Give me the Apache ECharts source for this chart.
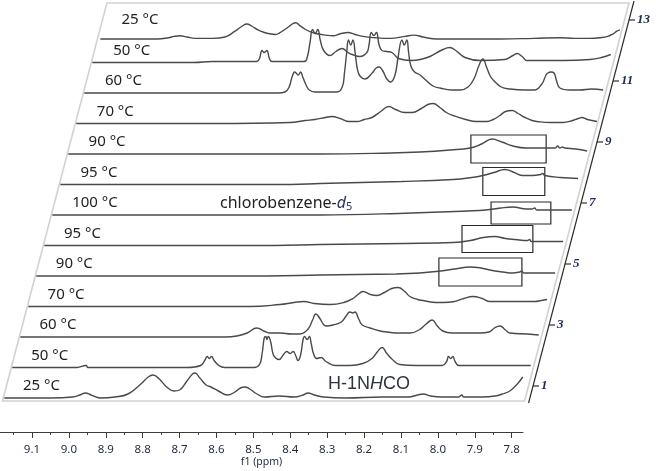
<!DOCTYPE html>
<html>
<head>
<meta charset="utf-8">
<script src="https://cdn.jsdelivr.net/npm/echarts@6/dist/echarts.min.js"></script>
<style>
    html, body { margin: 0; padding: 0; background: #fff; }
    #chart { width: 656px; height: 471px; }
</style>
</head>
<body>
<div id="chart"></div>
<script>
// spectra from front (1) to back (13), points are [ppm, intensity]
var s01 = [[9.175,0],[9.05,0],[8.99,1],[8.97,3],[8.955,5],[8.94,3],[8.915,0],[8.875,1],[8.84,4],[8.805,14],[8.785,21],[8.772,23],[8.755,19],[8.735,11],[8.715,7],[8.70,8],[8.68,17],[8.665,24],[8.658,25],[8.645,20],[8.628,13],[8.615,11],[8.595,7],[8.57,3],[8.55,6],[8.535,10],[8.523,11],[8.51,9],[8.49,4],[8.47,1],[8.43,2],[8.39,1],[8.365,3],[8.352,5],[8.335,3],[8.31,1],[8.25,0],[8.15,1],[8.08,1],[8.055,3],[8.04,4],[8.02,2],[7.99,1],[7.945,1],[7.935,3],[7.93,1],[7.88,1],[7.845,2],[7.825,4],[7.805,7],[7.79,12],[7.78,16],[7.77,21]];
var s02 = [[9.175,0],[9.0,0],[8.975,2],[8.97,0],[8.70,0],[8.665,2],[8.652,8],[8.647,11],[8.641,9],[8.635,11],[8.628,7],[8.615,2],[8.60,0],[8.52,0],[8.505,3],[8.498,14],[8.492,30],[8.488,31],[8.485,28],[8.481,31],[8.475,26],[8.468,13],[8.46,9],[8.452,8],[8.44,13],[8.431,16],[8.422,14],[8.414,16],[8.406,11],[8.401,7],[8.394,12],[8.387,28],[8.383,31],[8.376,28],[8.370,31],[8.365,24],[8.358,13],[8.350,9],[8.338,10],[8.325,6],[8.30,2],[8.26,2],[8.225,4],[8.20,9],[8.185,16],[8.173,20],[8.16,14],[8.145,8],[8.125,3],[8.08,2],[8.01,2],[7.998,6],[7.993,11],[7.987,9],[7.981,11],[7.975,6],[7.965,2],[7.90,2],[7.77,2]];
var s03 = [[9.175,0],[8.90,0],[8.62,0],[8.588,1],[8.56,4],[8.534,9],[8.515,6],[8.50,4],[8.471,4],[8.44,3],[8.417,3],[8.395,8],[8.383,17],[8.374,23],[8.364,19],[8.352,12],[8.344,11],[8.328,12],[8.305,15],[8.292,21],[8.282,25],[8.274,24],[8.268,25],[8.258,18],[8.248,12],[8.227,9],[8.20,6],[8.181,5],[8.15,4],[8.119,4],[8.095,7],[8.075,13],[8.059,17],[8.045,11],[8.030,6],[8.005,4],[7.96,4],[7.929,4],[7.905,5],[7.89,9],[7.875,11],[7.86,7],[7.848,4],[7.80,3],[7.77,2]];
var s04 = [[9.175,0],[8.80,0],[8.574,0],[8.493,2],[8.455,4],[8.428,5],[8.40,3],[8.357,2],[8.32,4],[8.295,8],[8.278,13],[8.268,15],[8.248,12],[8.23,11],[8.21,14],[8.19,18],[8.173,19],[8.155,15],[8.141,10],[8.12,7],[8.105,6],[8.07,4],[8.051,4],[8.02,5],[7.995,8],[7.97,10],[7.945,8],[7.924,5],[7.88,5],[7.843,5],[7.802,5],[7.785,6],[7.769,7]];
var s05 = [[9.175,0],[8.80,0],[8.55,0],[8.406,1],[8.20,2],[8.135,3],[8.08,5],[8.04,7],[8.0,9],[7.97,8],[7.946,6],[7.91,4],[7.885,3],[7.865,4],[7.86,5],[7.854,3],[7.80,3],[7.769,3]];
var s06 = [[9.175,0],[8.80,0],[8.55,0],[8.428,1],[8.20,2],[8.067,3],[8.02,5],[7.985,8],[7.954,9],[7.925,7],[7.899,6],[7.866,5],[7.86,6],[7.855,4],[7.80,4],[7.769,4]];
var s07 = [[9.175,0],[8.80,0],[8.55,0],[8.45,0],[8.20,2],[8.05,4],[8.0,5],[7.96,7],[7.927,8],[7.89,6],[7.875,6],[7.868,7],[7.862,5],[7.80,5],[7.767,5]];
var s08 = [[9.175,0],[8.80,0],[8.55,0],[8.471,1],[8.25,3],[8.111,5],[8.06,7],[8.03,9],[8.0,12],[7.97,15],[7.945,12],[7.921,9],[7.895,9],[7.874,10],[7.868,11],[7.862,9],[7.82,7],[7.772,6]];
var s09 = [[9.175,0],[8.80,0],[8.55,0],[8.493,0],[8.30,1],[8.222,2],[8.14,4],[8.086,6],[8.055,10],[8.027,15],[8.0,12],[7.970,8],[7.935,6],[7.905,6],[7.855,6],[7.849,8],[7.843,6],[7.835,7],[7.83,6],[7.80,5],[7.769,3]];
var s10 = [[9.175,0],[8.80,0],[8.596,1],[8.555,3],[8.528,4],[8.50,6],[8.482,7],[8.46,5],[8.435,2],[8.414,2],[8.395,4],[8.374,6],[8.35,12],[8.328,17],[8.31,14],[8.285,11],[8.265,11],[8.24,15],[8.222,19],[8.208,20],[8.19,16],[8.172,11],[8.154,8],[8.12,4],[8.09,2],[8.062,2],[8.045,4],[8.027,8],[8.012,12],[7.994,13],[7.978,10],[7.959,6],[7.94,3],[7.927,2],[7.89,1],[7.856,1],[7.83,3],[7.815,5],[7.805,6],[7.79,4],[7.764,2]];
var s11 = [[9.175,0],[8.80,0],[8.65,0],[8.631,1],[8.62,6],[8.612,16],[8.605,21],[8.601,20],[8.595,18],[8.589,21],[8.583,16],[8.574,8],[8.565,3],[8.55,1],[8.49,1],[8.476,6],[8.470,20],[8.464,40],[8.459,53],[8.453,48],[8.447,53],[8.441,40],[8.435,24],[8.428,17],[8.414,14],[8.395,20],[8.384,25],[8.376,26],[8.366,22],[8.355,14],[8.345,11],[8.333,18],[8.325,35],[8.314,53],[8.308,48],[8.301,53],[8.296,40],[8.290,27],[8.280,21],[8.265,18],[8.25,13],[8.23,7],[8.211,5],[8.18,3],[8.157,3],[8.135,6],[8.118,15],[8.106,27],[8.095,34],[8.085,26],[8.075,17],[8.067,13],[8.045,6],[8.021,4],[7.98,3],[7.955,3],[7.935,9],[7.925,17],[7.919,20],[7.910,21],[7.902,20],[7.895,12],[7.886,5],[7.86,3],[7.832,3],[7.80,4],[7.769,3]];
var s12 = [[9.175,0],[8.90,0],[8.85,1],[8.73,1],[8.722,4],[8.715,12],[8.709,10],[8.702,12],[8.695,4],[8.688,1],[8.60,1],[8.592,6],[8.585,20],[8.578,33],[8.571,29],[8.564,33],[8.557,22],[8.548,12],[8.531,7],[8.515,11],[8.498,14],[8.482,10],[8.471,8],[8.45,6],[8.431,10],[8.425,18],[8.419,30],[8.412,27],[8.405,30],[8.398,18],[8.39,12],[8.376,11],[8.363,10],[8.345,4],[8.31,2],[8.287,3],[8.26,6],[8.225,13],[8.206,15],[8.19,12],[8.165,5],[8.124,2],[8.057,3],[8.035,7],[8.024,9],[8.01,6],[7.997,2],[7.90,2],[7.826,3],[7.795,5],[7.77,8]];
var s13 = [[9.175,0],[9.02,0],[8.99,2],[8.975,4],[8.959,5],[8.94,3],[8.918,1],[8.87,1],[8.837,3],[8.81,12],[8.79,20],[8.778,23],[8.765,20],[8.748,14],[8.73,10],[8.715,8],[8.70,7],[8.69,9],[8.669,17],[8.652,24],[8.645,25],[8.635,21],[8.62,15],[8.605,11],[8.588,8],[8.565,6],[8.544,5],[8.525,8],[8.504,10],[8.485,7],[8.463,4],[8.43,2],[8.39,1],[8.35,4],[8.325,6],[8.30,3],[8.263,0],[8.092,0],[8.00,1],[7.929,2],[7.89,1],[7.848,1],[7.82,2],[7.80,4],[7.785,8],[7.775,12],[7.767,14]];

var spectra = [s01, s02, s03, s04, s05, s06, s07, s08, s09, s10, s11, s12, s13];
var temperatures = ['25 °C', '50 °C', '60 °C', '70 °C', '90 °C', '95 °C', '100 °C',
                    '95 °C', '90 °C', '70 °C', '60 °C', '50 °C', '25 °C'];
var ppmTicks = [9.1, 9.0, 8.9, 8.8, 8.7, 8.6, 8.5, 8.4, 8.3, 8.2, 8.1, 8.0, 7.9, 7.8];
var ppmMinorTicks = [9.15, 9.05, 8.95, 8.85, 8.75, 8.65, 8.55, 8.45, 8.35, 8.25, 8.15, 8.05, 7.95, 7.85];
var traceTicks = [1, 3, 5, 7, 9, 11, 13];
// boxed NH signal: trace number, [ppm, intensity] corners
var boxTrace = [5, 6, 7, 8, 9];
var boxFrom = [[8.084, 18], [8.043, 20], [7.986, 13], [8.030, 17], [8.084, 19]];
var boxTo = [[7.859, -10], [7.851, -7], [7.824, -9], [7.862, -11], [7.880, -9]];

// layout of the stacked plot
var PPM_MAX = 9.175, PPM_MIN = 7.765;
var FRONT_LEFT = 4.3, PLOT_W = 520.3;
var BASE_Y0 = 398, STEP_Y = 30.5, STEP_X = 8;
var Y_MIN = -20, Y_MAX = 60;
var AXIS_Y = 432, AXIS_W = 523;

var pxPerPpm = PLOT_W / (PPM_MAX - PPM_MIN);
var axisMax = PPM_MAX + FRONT_LEFT / pxPerPpm;
var axisMin = axisMax - AXIS_W / pxPerPpm;
var slant = STEP_X / STEP_Y;

var chart = echarts.init(document.getElementById('chart'));

var grids = [], xAxes = [], yAxes = [], series = [];

spectra.forEach(function (data, i) {
    var baseY = BASE_Y0 - STEP_Y * i;
    grids.push({
        left: FRONT_LEFT + STEP_X * i,
        top: baseY - Y_MAX,
        width: PLOT_W,
        height: Y_MAX - Y_MIN
    });
    xAxes.push({ type: 'value', gridIndex: i, min: PPM_MIN, max: PPM_MAX, inverse: true, show: false });
    yAxes.push({ type: 'value', gridIndex: i, min: Y_MIN, max: Y_MAX, show: false });

    var boxes = [];
    boxTrace.forEach(function (t, k) {
        if (t === i + 1) {
            boxes.push([{ coord: boxFrom[k] }, { coord: boxTo[k] }]);
        }
    });

    series.push({
        type: 'line',
        xAxisIndex: i,
        yAxisIndex: i,
        data: data,
        showSymbol: false,
        smooth: 0.45,
        clip: false,
        silent: true,
        lineStyle: { color: '#4a4a4a', width: 1.4 },
        markArea: boxes.length ? {
            silent: true,
            itemStyle: { color: 'rgba(0,0,0,0)', borderColor: '#2a2a2a', borderWidth: 1.2 },
            data: boxes
        } : undefined
    });
});

// visible ppm axis under the front trace
var axisGrid = spectra.length;
grids.push({ left: 0, top: AXIS_Y - 100, width: AXIS_W, height: 100 });
yAxes.push({ type: 'value', gridIndex: axisGrid, min: 0, max: 1, show: false });
xAxes.push({
    type: 'value', gridIndex: axisGrid, min: axisMin, max: axisMax, inverse: true, position: 'bottom',
    axisLine: { show: true, lineStyle: { color: '#3c3c3c', width: 1 } },
    axisTick: { show: true, length: 6, customValues: ppmTicks, lineStyle: { color: '#3c3c3c' } },
    axisLabel: {
        customValues: ppmTicks, margin: 12, color: '#1f2a40', fontSize: 11.5,
        fontFamily: 'Noto Sans',
        formatter: function (v) { return Number(v).toFixed(1); }
    },
    splitLine: { show: false },
    name: 'f1 (ppm)', nameLocation: 'middle', nameGap: 25,
    nameTextStyle: { color: '#1f2a40', fontSize: 10.5, fontFamily: 'Noto Sans' }
});
xAxes.push({
    type: 'value', gridIndex: axisGrid, min: axisMin, max: axisMax, inverse: true, position: 'bottom',
    axisLine: { show: false },
    axisTick: { show: true, length: 3, customValues: ppmMinorTicks, lineStyle: { color: '#3c3c3c' } },
    axisLabel: { show: false },
    splitLine: { show: false }
});

// the slanted plate, its right hand trace axis and the texts
var plateBottom = BASE_Y0 + 3;
var plateTop = BASE_Y0 - STEP_Y * (spectra.length - 1) - 29;
var plateLeft = FRONT_LEFT - 1.8;
var plateRight = FRONT_LEFT + PLOT_W;
var rise = (plateBottom - plateTop) * slant;

function rightAxisX(y) {
    return plateRight + 4.5 + (plateBottom - y) * slant;
}

var graphics = [{
    type: 'polygon',
    silent: true,
    z: 0,
    shape: {
        points: [
            [plateLeft, plateBottom], [plateRight, plateBottom],
            [plateRight + rise, plateTop], [plateLeft + rise, plateTop]
        ]
    },
    style: { fill: '#fff', stroke: '#d2d2d2', lineWidth: 1.6 }
}, {
    type: 'line',
    silent: true,
    z: 0,
    shape: {
        x1: rightAxisX(plateBottom + 2), y1: plateBottom + 2,
        x2: rightAxisX(plateTop - 2), y2: plateTop - 2
    },
    style: { stroke: '#2f2f2f', lineWidth: 1.2 }
}];

traceTicks.forEach(function (n) {
    var y = BASE_Y0 - STEP_Y * (n - 1) - 12;
    var x = rightAxisX(y);
    graphics.push({
        type: 'line', silent: true, z: 0,
        shape: { x1: x, y1: y, x2: x + 6, y2: y },
        style: { stroke: '#2f2f2f', lineWidth: 1.2 }
    });
    graphics.push({
        type: 'text', silent: true, z: 0, x: x + 8, y: y,
        style: {
            text: String(n), fill: '#1c2a55', fontSize: 13, fontStyle: 'italic', fontWeight: 'bold',
            fontFamily: 'Liberation Serif', verticalAlign: 'middle'
        }
    });
});

temperatures.forEach(function (t, i) {
    graphics.push({
        type: 'text', silent: true, z: 5,
        x: 23 + 8.2 * i,
        y: BASE_Y0 - STEP_Y * i - 12,
        style: {
            text: t, fill: '#222', fontSize: 15, fontFamily: 'Noto Sans', verticalAlign: 'middle'
        }
    });
});

graphics.push({
    type: 'text', silent: true, z: 5, x: 220, y: 203,
    style: {
        text: '{a|chlorobenzene-}{d|d}{s|5}',
        verticalAlign: 'middle',
        rich: {
            a: { fontSize: 16, fontFamily: 'Noto Sans', fill: '#222' },
            d: { fontSize: 16, fontFamily: 'Noto Sans', fontStyle: 'italic', fill: '#2a3560' },
            s: { fontSize: 11, fontFamily: 'Noto Sans', fill: '#2a3560', padding: [8, 0, 0, 0] }
        }
    }
});

graphics.push({
    type: 'text', silent: true, z: 5, x: 328, y: 384,
    style: {
        text: '{a|H-1N}{i|H}{a|CO}',
        verticalAlign: 'middle',
        rich: {
            a: { fontSize: 18, fontFamily: 'Liberation Sans', fill: '#2e3440' },
            i: { fontSize: 18, fontFamily: 'Liberation Sans', fontStyle: 'italic', fill: '#2e3440' }
        }
    }
});

chart.setOption({
    backgroundColor: '#fff',
    animation: false,
    grid: grids,
    xAxis: xAxes,
    yAxis: yAxes,
    series: series,
    graphic: { elements: graphics }
});
</script>
</body>
</html>
